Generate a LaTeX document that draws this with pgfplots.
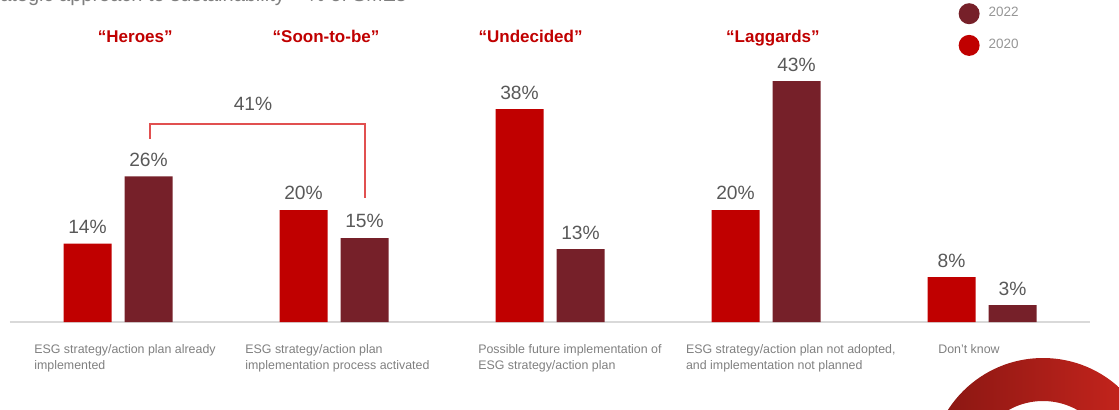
\documentclass[border=0pt]{standalone}
\usepackage{fontspec}
\setmainfont{Liberation Sans}
\usepackage{pgfplots}
\pgfplotsset{compat=1.18}

\definecolor{red20}{RGB}{192,0,0}
\definecolor{wine22}{RGB}{118,32,41}
\definecolor{lbl}{RGB}{89,89,89}
\definecolor{cat}{RGB}{127,127,127}
\definecolor{leg}{RGB}{150,150,150}
\definecolor{base}{RGB}{217,217,217}
\definecolor{brk}{RGB}{225,80,80}
\definecolor{ringL}{RGB}{135,22,18}
\definecolor{ringR}{RGB}{205,38,30}

\begin{document}
\begin{tikzpicture}
\useasboundingbox (0,0) rectangle (559.5pt,204.5pt);

% decoration in the lower right corner
\begin{scope}
\clip (0,0) rectangle (559.5pt,204.5pt);
\shade[left color=ringL, right color=ringR, even odd rule]
  (521.5pt,-31pt) circle (56.5pt) (521.5pt,-31pt) circle (35pt);
\end{scope}

\begin{axis}[
    at={(5pt,43.5pt)}, anchor=south west,
    x=108pt, y=2.8pt,
    xmin=-0.5, xmax=4.5, ymin=0, ymax=57.5,
    hide axis, clip=false,
    ybar=6.5pt, bar width=24pt,
    /pgf/number format/assume math mode=true,
    nodes near coords={\pgfmathprintnumber{\pgfplotspointmeta}\%},
    every node near coord/.append style={font=\fontsize{9.6}{11}\selectfont,
        text=lbl, inner sep=0pt, yshift=4.75pt},
    reverse legend,
    legend cell align=left,
    legend style={at={(0.878,0.9913)}, anchor=north west, draw=none, fill=none,
        font=\fontsize{6.75}{8}\selectfont, text=leg, inner sep=0pt,
        row sep=5.35pt, column sep=4.5pt, nodes={inner sep=0pt}},
]

\draw[base, line width=0.6pt] (axis cs:-0.5,0) -- (axis cs:4.5,0);

\addplot[fill=red20, draw=none,
    legend image code/.code={\fill[red20] (5.25pt,0pt) circle (5.25pt);}]
    coordinates {(0,14) (1,20) (2,38) (3,20) (4,8)};
\addplot[fill=wine22, draw=none,
    legend image code/.code={\fill[wine22] (5.25pt,0pt) circle (5.25pt);}]
    coordinates {(0,26) (1,15) (2,13) (3,43) (4,3)};
\legend{2020,2022}

% bracket over the 2022 bars of the first two groups
\draw[brk, line width=0.75pt] (axis cs:0.148,32.7) -- (axis cs:0.148,35.36)
    -- (axis cs:1.144,35.36) -- (axis cs:1.144,22.1);
\node[font=\fontsize{9.6}{11}\selectfont, text=lbl, inner sep=0pt]
    at (axis cs:0.625,38.9) {41\%};

% group titles
\begin{scope}[every node/.style={font=\bfseries\fontsize{8.5}{10}\selectfont,
    text=red20, anchor=base, inner sep=0pt}]
\node at (axis cs:0.08,49.84) {“Heroes”};
\node at (axis cs:0.963,49.84) {“Soon-to-be”};
\node at (axis cs:1.91,49.84) {“Undecided”};
\node at (axis cs:3.032,49.84) {“Laggards”};
\end{scope}

% category labels
\begin{scope}[every node/.style={font=\fontsize{6.2}{7.7}\selectfont,
    text=cat, anchor=north west, align=left, inner sep=0pt}]
\node at (axis cs:-0.389,-3.98) {ESG strategy/action plan already\\implemented};
\node at (axis cs:0.588,-3.98) {ESG strategy/action plan\\implementation process activated};
\node at (axis cs:1.666,-3.98) {Possible future implementation of\\ESG strategy/action plan};
\node at (axis cs:2.628,-3.98) {ESG strategy/action plan not adopted,\\and implementation not planned};
\node at (axis cs:3.796,-3.98) {Don't know};
\end{scope}

% title cut off by the top edge
\node[anchor=base west, inner sep=0pt, font=\fontsize{10}{12}\selectfont, text=cat]
    at (axis cs:-0.665,57.3) {Strategic approach to sustainability – \% of SMEs};

\end{axis}
\end{tikzpicture}
\end{document}
